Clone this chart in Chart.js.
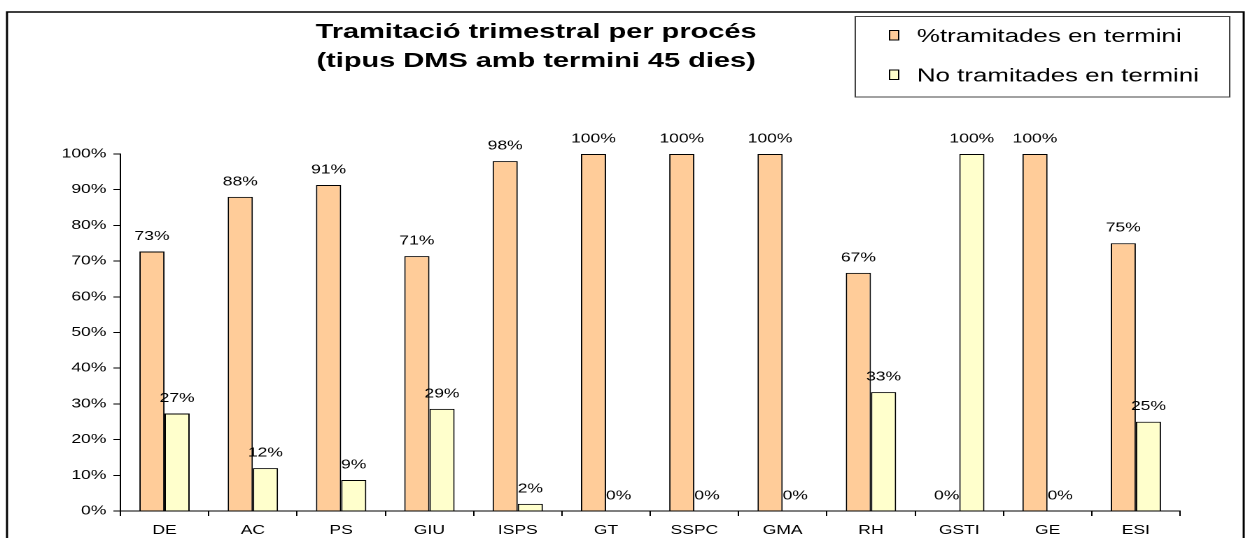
<!DOCTYPE html>
<html>
<head>
<meta charset="utf-8">
<script src="https://cdn.jsdelivr.net/npm/chart.js@4.4.1/dist/chart.umd.min.js"></script>
<style>
    html, body { margin: 0; padding: 0; background: #fff; overflow: hidden; }
    /* the original picture is stretched sideways, so the canvas is too */
    #chart { display: block; transform-origin: 0 0; transform: scaleX(1.39978); }
</style>
</head>
<body>
<canvas id="chart" width="893" height="538"></canvas>
<script>
const titleLines = ['Tramitació trimestral per procés', '(tipus DMS amb termini 45 dies)'];
const categories = ['DE', 'AC', 'PS', 'GIU', 'ISPS', 'GT', 'SSPC', 'GMA', 'RH', 'GSTI', 'GE', 'ESI'];
const seriesNames = ['%tramitades en termini', 'No tramitades en termini'];
const enTermini = [72.7, 88, 91.3, 71.4, 98, 100, 100, 100, 66.7, 0, 100, 75];
const noEnTermini = [27.3, 12, 8.7, 28.6, 2, 0, 0, 0, 33.3, 100, 0, 25];
const yTicks = [0, 10, 20, 30, 40, 50, 60, 70, 80, 90, 100];

const FONT = '"Liberation Sans", Arial, sans-serif';

// frame, title and legend box
const decor = {
    id: 'decor',
    beforeDraw(chart) {
        const ctx = chart.ctx;
        ctx.save();
        ctx.fillStyle = '#fff';
        ctx.fillRect(0, 0, chart.width, chart.height);

        ctx.strokeStyle = '#000';
        ctx.lineWidth = 1.5;
        ctx.beginPath();
        ctx.moveTo(5, 600);
        ctx.lineTo(5, 12);
        ctx.lineTo(888.5, 12);
        ctx.lineTo(888.5, 600);
        ctx.stroke();

        ctx.fillStyle = '#000';
        ctx.font = 'bold 20.7px ' + FONT;
        ctx.textAlign = 'center';
        ctx.textBaseline = 'alphabetic';
        ctx.fillText(titleLines[0], 383, 38);
        ctx.fillText(titleLines[1], 383, 67);

        // legend
        ctx.lineWidth = 1;
        ctx.strokeStyle = '#444';
        ctx.strokeRect(611, 16.5, 267.5, 80.5);
        const rows = [42, 81.5];
        ctx.font = '18.5px ' + FONT;
        ctx.textAlign = 'left';
        chart.data.datasets.forEach((ds, i) => {
            const base = rows[i];
            ctx.fillStyle = ds.backgroundColor;
            ctx.fillRect(635.5, base - 11.5, 6.5, 9.5);
            ctx.strokeStyle = '#000';
            ctx.strokeRect(635.5, base - 11.5, 6.5, 9.5);
            ctx.fillStyle = '#000';
            ctx.fillText(ds.label, 655, base);
        });
        ctx.restore();
    },
    afterDatasetsDraw(chart) {
        const ctx = chart.ctx;
        ctx.save();
        ctx.fillStyle = '#000';
        ctx.font = '12.5px ' + FONT;
        ctx.textAlign = 'center';
        ctx.textBaseline = 'middle';
        chart.data.datasets.forEach((ds, i) => {
            chart.getDatasetMeta(i).data.forEach((bar, j) => {
                ctx.fillText(Math.round(ds.data[j]) + '%', bar.x, bar.y - 15);
            });
        });
        ctx.restore();
    }
};

new Chart(document.getElementById('chart'), {
    type: 'bar',
    data: {
        labels: categories,
        datasets: [
            {
                label: seriesNames[0],
                data: enTermini,
                backgroundColor: '#FFCC99',
                borderColor: '#000',
                borderWidth: 1
            },
            {
                label: seriesNames[1],
                data: noEnTermini,
                backgroundColor: '#FFFFCC',
                borderColor: '#000',
                borderWidth: 1
            }
        ]
    },
    options: {
        responsive: false,
        devicePixelRatio: 2,
        animation: false,
        layout: { padding: { top: 154, left: 0, right: 50, bottom: 0 } },
        datasets: { bar: { categoryPercentage: 0.57, barPercentage: 1 } },
        plugins: {
            legend: { display: false },
            title: { display: false },
            tooltip: { enabled: false }
        },
        scales: {
            x: {
                grid: { drawOnChartArea: false, offset: true, tickLength: 5, color: '#000' },
                border: { color: '#000', width: 1 },
                ticks: { color: '#000', font: { family: FONT, size: 12.5 }, padding: 7, maxRotation: 0 },
                afterFit: (scale) => { scale.height = 27; }
            },
            y: {
                min: 0,
                max: 100,
                afterBuildTicks: (scale) => { scale.ticks = yTicks.map(v => ({ value: v })); },
                grid: { drawOnChartArea: false, tickLength: 5, color: '#000' },
                border: { color: '#000', width: 1 },
                ticks: {
                    color: '#000',
                    font: { family: FONT, size: 12.5 },
                    padding: 5,
                    callback: (v) => v + '%'
                },
                afterFit: (scale) => { scale.width = 86; }
            }
        }
    },
    plugins: [decor]
});
</script>
</body>
</html>
